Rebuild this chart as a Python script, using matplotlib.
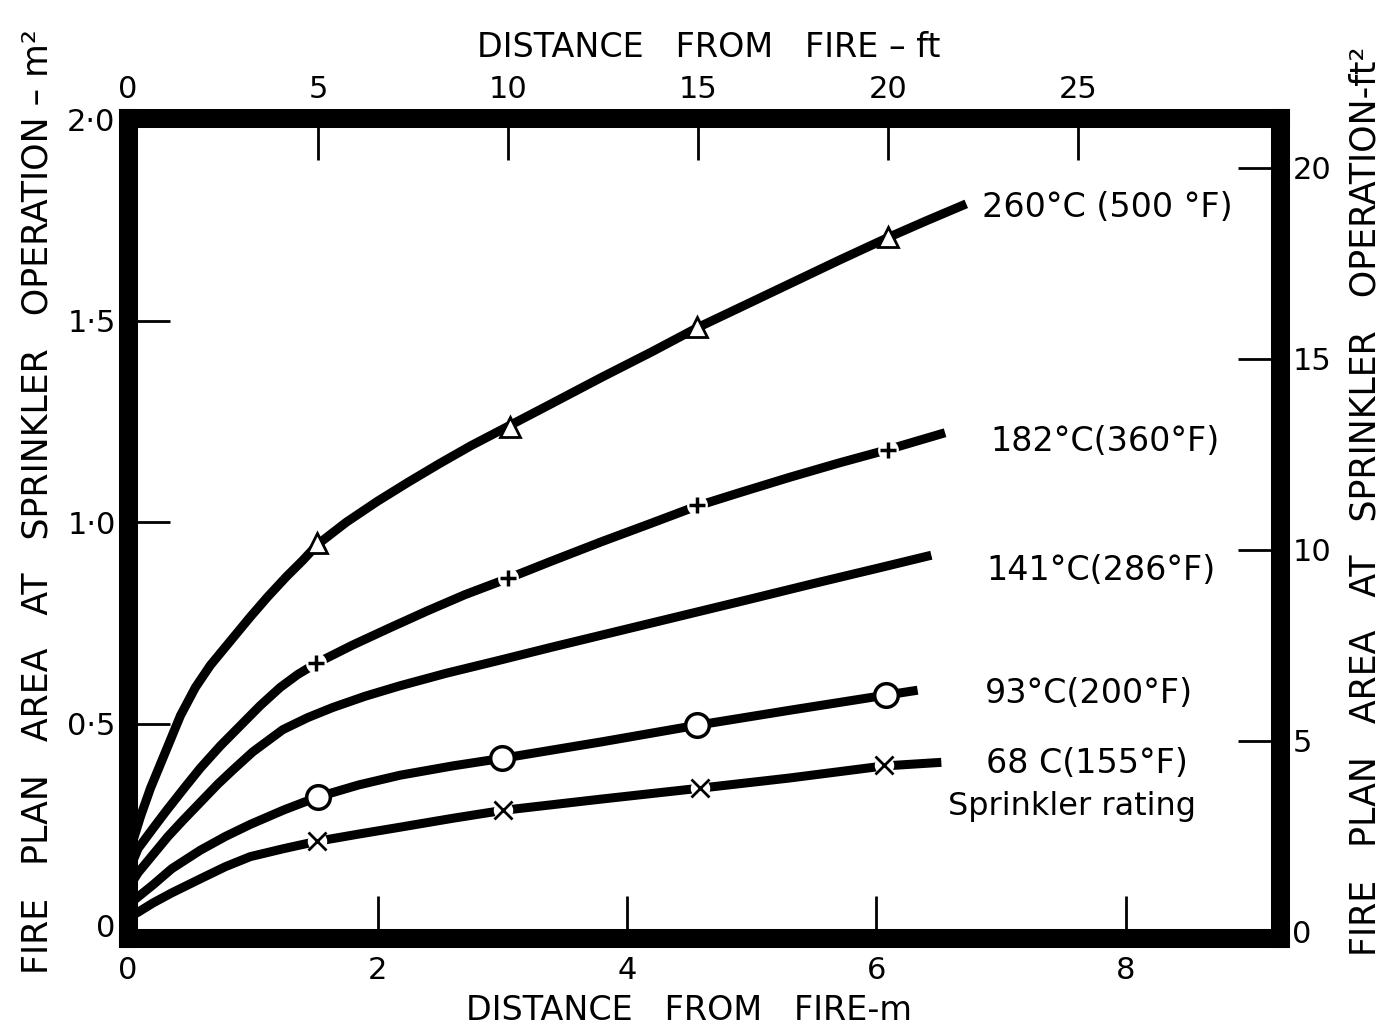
import matplotlib
matplotlib.use("Agg")
import matplotlib.pyplot as plt

# curves: distance from fire (m) -> fire plan area (m^2)
x_260 = [0.0, 0.04, 0.1, 0.18, 0.3, 0.42, 0.54, 0.66, 0.82, 0.98, 1.12, 1.27, 1.4, 1.52,
         1.75, 2.0, 2.25, 2.5, 2.75, 3.06, 3.4, 3.8, 4.2, 4.56, 4.9, 5.3, 5.7, 6.09, 6.4, 6.72]
y_260 = [0.16, 0.21, 0.27, 0.34, 0.43, 0.52, 0.59, 0.645, 0.705, 0.765, 0.815, 0.865, 0.905, 0.945,
         1.0, 1.052, 1.10, 1.146, 1.19, 1.24, 1.295, 1.36, 1.423, 1.482, 1.532, 1.591, 1.65, 1.706, 1.748, 1.79]

x_182 = [0.0, 0.08, 0.2, 0.31, 0.45, 0.58, 0.74, 0.9, 1.06, 1.22, 1.36, 1.51, 1.8, 2.1, 2.4,
         2.7, 3.05, 3.4, 3.8, 4.2, 4.56, 4.9, 5.3, 5.7, 6.09, 6.55]
y_182 = [0.13, 0.19, 0.24, 0.285, 0.34, 0.39, 0.445, 0.495, 0.545, 0.59, 0.622, 0.65, 0.695, 0.738, 0.78,
         0.82, 0.861, 0.904, 0.952, 0.998, 1.04, 1.073, 1.111, 1.147, 1.18, 1.222]

x_141 = [0.0, 0.08, 0.2, 0.32, 0.44, 0.58, 0.72, 0.84, 1.0, 1.24, 1.44, 1.64, 1.9, 2.18, 2.55,
         2.96, 3.4, 3.8, 4.2, 4.6, 5.0, 5.5, 6.0, 6.44]
y_141 = [0.09, 0.13, 0.175, 0.22, 0.26, 0.305, 0.35, 0.385, 0.43, 0.485, 0.515, 0.54, 0.568, 0.594, 0.625,
         0.656, 0.69, 0.72, 0.75, 0.78, 0.81, 0.848, 0.885, 0.918]

x_93 = [0.0, 0.08, 0.2, 0.35, 0.58, 0.78, 0.98, 1.25, 1.52, 1.85, 2.18, 2.6, 3.0, 3.8, 4.56,
        5.3, 6.08, 6.33]
y_93 = [0.05, 0.07, 0.1, 0.14, 0.186, 0.22, 0.25, 0.286, 0.318, 0.348, 0.372, 0.395, 0.414, 0.455, 0.496,
        0.533, 0.571, 0.583]

x_68 = [0.0, 0.08, 0.2, 0.35, 0.58, 0.78, 0.98, 1.25, 1.515, 1.85, 2.18, 2.6, 3.01, 3.8, 4.59,
        5.3, 6.06, 6.52]
y_68 = [0.02, 0.032, 0.055, 0.08, 0.115, 0.145, 0.17, 0.19, 0.208, 0.226, 0.243, 0.265, 0.285, 0.313, 0.34,
        0.365, 0.395, 0.404]

# marked points (at 5, 10, 15, 20 ft)
mx_260 = [1.515, 3.06, 4.56, 6.09]
my_260 = [0.948, 1.236, 1.484, 1.707]
mx_182 = [1.507, 3.046, 4.561, 6.092]
my_182 = [0.65, 0.861, 1.042, 1.179]
mx_93 = [1.523, 2.998, 4.561, 6.076]
my_93 = [0.318, 0.414, 0.496, 0.571]
mx_68 = [1.515, 3.006, 4.585, 6.06]
my_68 = [0.208, 0.285, 0.34, 0.397]

curve_labels = ["260°C (500 °F)", "182°C(360°F)", "141°C(286°F)", "93°C(200°F)", "68 C(155°F)"]
label_y = [1.78, 1.20, 0.88, 0.575, 0.40]
label_x = [6.85, 6.91, 6.88, 6.87, 6.88]

m_ticks = [0, 2, 4, 6, 8]
m2_ticks = [0.5, 1.0, 1.5]
m2_ticklabels = ["0·5", "1·0", "1·5"]
m2_ends = [0, 2.0]
m2_endlabels = ["0", "2·0"]
ft_ticks = [0, 5, 10, 15, 20, 25]
ft2_ticks = [0, 5, 10, 15, 20]


def main():
    fig = plt.figure(figsize=(13.86, 10.30), dpi=100)
    ax = fig.add_axes([0.0924, 0.0893, 0.8311, 0.7961])

    ax.set_xlim(0, 9.235)
    ax.set_ylim(-0.032, 2.003)

    lw = 6.5
    for xs, ys in [(x_260, y_260), (x_182, y_182), (x_141, y_141), (x_93, y_93), (x_68, y_68)]:
        ax.plot(xs, ys, color="black", lw=lw, solid_capstyle="butt", solid_joinstyle="round")

    # markers (white patch underneath to break the line like the original)
    ax.plot(mx_260, my_260, ls="none", marker="^", ms=14, mfc="white", mec="black", mew=2)
    ax.plot(mx_182, my_182, ls="none", marker="o", ms=15, mfc="white", mec="none")
    ax.plot(mx_182, my_182, ls="none", marker="+", ms=12, mec="black", mew=2.5)
    ax.plot(mx_93, my_93, ls="none", marker="o", ms=17, mfc="white", mec="black", mew=2.5)
    ax.plot(mx_68, my_68, ls="none", marker="o", ms=14, mfc="white", mec="none")
    ax.plot(mx_68, my_68, ls="none", marker="x", ms=13, mec="black", mew=2)

    for lab, lx, ly in zip(curve_labels, label_x, label_y):
        ax.text(lx, ly, lab, fontsize=24, ha="left", va="center")
    ax.text(6.57, 0.295, "Sprinkler rating", fontsize=23, ha="left", va="center")

    # thick frame
    for sp in ax.spines.values():
        sp.set_linewidth(13.7)
        sp.set_capstyle("projecting")

    ax.set_xticks(m_ticks)
    ax.set_yticks(m2_ticks)
    ax.set_yticklabels(m2_ticklabels)
    ax.set_yticks(m2_ends, minor=True)
    ax.set_yticklabels(m2_endlabels, minor=True)
    ax.tick_params(axis="both", which="major", direction="in", length=30, width=2, labelsize=22)
    ax.tick_params(axis="y", which="minor", length=0, labelsize=22, pad=9)
    ax.tick_params(axis="x", pad=13)
    ax.tick_params(axis="y", which="major", pad=9)

    # ft scale on top
    axt = ax.twiny()
    axt.set_xlim(0, 30.3)
    axt.set_xticks(ft_ticks)
    axt.tick_params(axis="x", direction="in", length=30, width=2, labelsize=22, pad=10)
    # ft^2 scale on right
    axr = ax.twinx()
    axr.set_ylim(-0.16, 21.3)
    axr.set_yticks(ft2_ticks)
    axr.tick_params(axis="y", direction="in", length=30, width=2, labelsize=22, pad=9)
    for a in (axt, axr):
        for sp in a.spines.values():
            sp.set_visible(False)

    fig.text(0.511, 0.954, "DISTANCE   FROM   FIRE – ft", fontsize=24, ha="center", va="center")
    fig.text(0.497, 0.019, "DISTANCE   FROM   FIRE-m", fontsize=24, ha="center", va="center")
    fig.text(0.027, 0.513, "FIRE   PLAN   AREA   AT   SPRINKLER   OPERATION – m²",
             fontsize=25, rotation=90, ha="center", va="center")
    fig.text(0.985, 0.513, "FIRE   PLAN   AREA   AT   SPRINKLER   OPERATION-ft²",
             fontsize=25, rotation=90, ha="center", va="center")

    fig.savefig("out.png", dpi=100)
    plt.close(fig)


if __name__ == "__main__":
    main()
